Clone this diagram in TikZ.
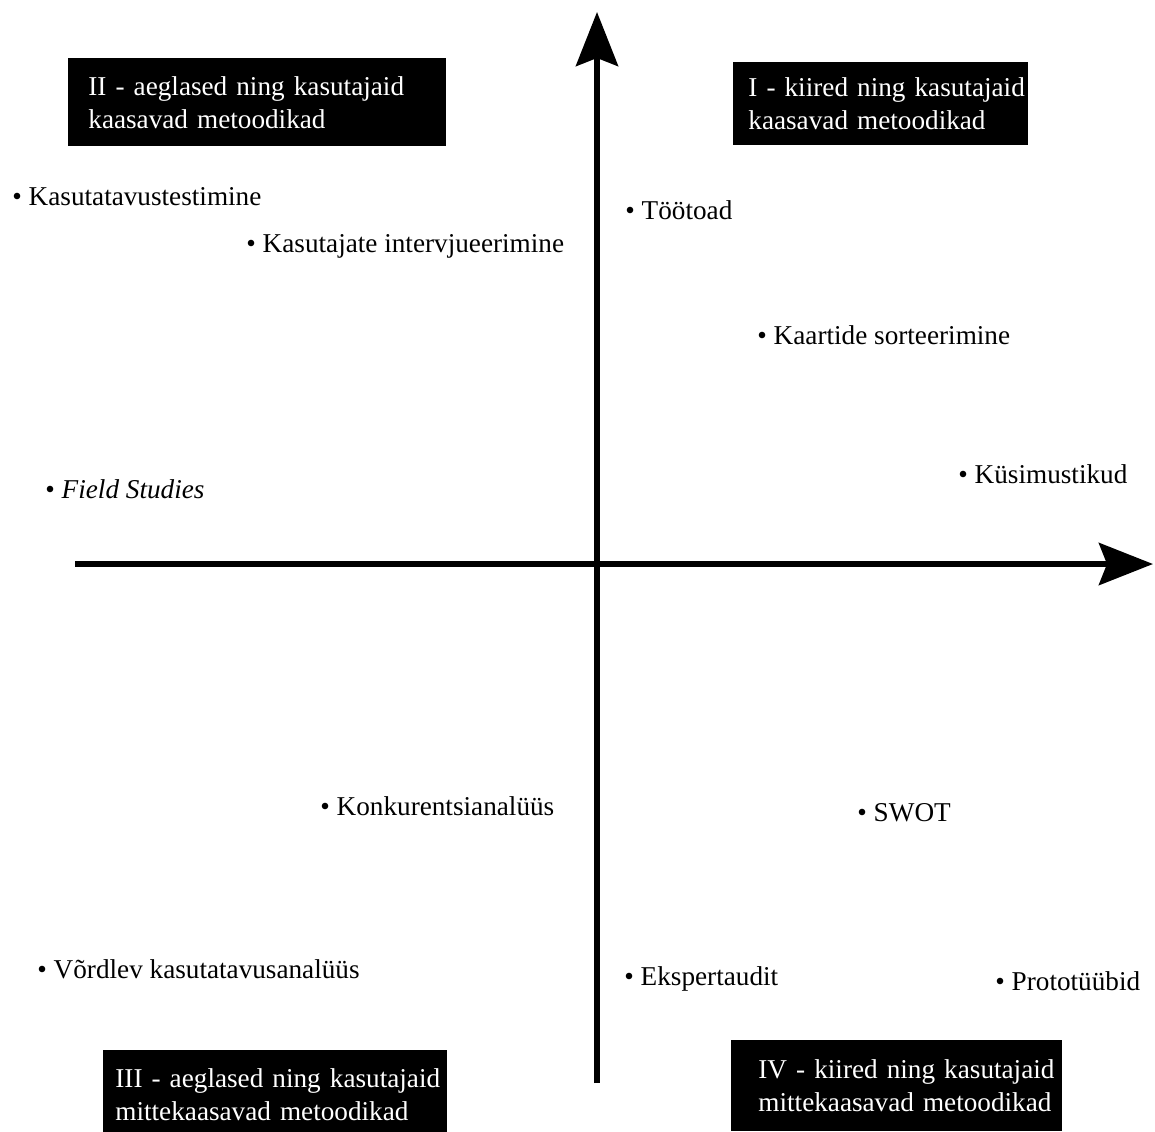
\documentclass[tikz,border=0pt]{standalone}
\usepackage{fontspec}
\setmainfont{Liberation Serif}
\usepackage{xcolor}
\usetikzlibrary{arrows.meta}

\tikzset{
	veerand/.style={fill=black, text=white, align=left, anchor=north west, inner ysep=0pt, font=\fontsize{13.6}{16.5}\selectfont},
	meetod/.style={anchor=base west, inner sep=0pt, font=\fontsize{13.6}{16.5}\selectfont},
	telg/.style={line width=3pt, -{Stealth[length=27pt, width=21pt, inset=4pt]}}
}

\begin{document}
\begin{tikzpicture}[x=0.5pt, y=-0.5pt]
		\useasboundingbox (0,0) rectangle (1155,1131);
		% teljed
		\coordinate (xa) at (75,564);
		\coordinate (xl) at (1153,564);
		\coordinate (ya) at (597,1083);
		\coordinate (yl) at (597,12);
		\draw[telg] (xa) -- (xl);
		\draw[telg] (ya) -- (yl);
		% veerandid
		\node[veerand, text width=169pt, inner xsep=10pt, minimum height=44pt] at (68,58) (vII) {\mbox{II - aeglased ning kasutajaid}\\\mbox{kaasavad metoodikad}};
		\node[veerand, text width=132.5pt, inner xsep=7.5pt, minimum height=41.5pt] at (733,62) (vI) {\mbox{I - kiired ning kasutajaid}\\\mbox{kaasavad metoodikad}};
		\node[veerand, text width=160pt, inner xsep=6pt, minimum height=44pt] at (103,1050) (vIII) {\mbox{III - aeglased ning kasutajaid}\\\mbox{mittekaasavad metoodikad}};
		\node[veerand, text width=138.5pt, inner xsep=13.5pt, minimum height=45.5pt] at (731,1040) (vIV) {\mbox{IV - kiired ning kasutajaid}\\\mbox{mittekaasavad metoodikad}};
		% meetodid
		\node[meetod] at (12,205) (kas) {\textbullet\ Kasutatavustestimine};
		\node[meetod] at (246,252) (int) {\textbullet\ Kasutajate intervjueerimine};
		\node[meetod] at (625,219) (too) {\textbullet\ Töötoad};
		\node[meetod] at (757,344) (kaa) {\textbullet\ Kaartide sorteerimine};
		\node[meetod] at (958,483) (kys) {\textbullet\ Küsimustikud};
		\node[meetod] at (45,498) (fie) {\textbullet\ \textit{Field Studies}};
		\node[meetod] at (320,815) (kon) {\textbullet\ Konkurentsianalüüs};
		\node[meetod] at (857,821) (swo) {\textbullet\ SWOT};
		\node[meetod] at (37,978) (vor) {\textbullet\ Võrdlev kasutatavusanalüüs};
		\node[meetod] at (624,985) (eks) {\textbullet\ Ekspertaudit};
		\node[meetod] at (995,990) (pro) {\textbullet\ Prototüübid};
\end{tikzpicture}
\end{document}
